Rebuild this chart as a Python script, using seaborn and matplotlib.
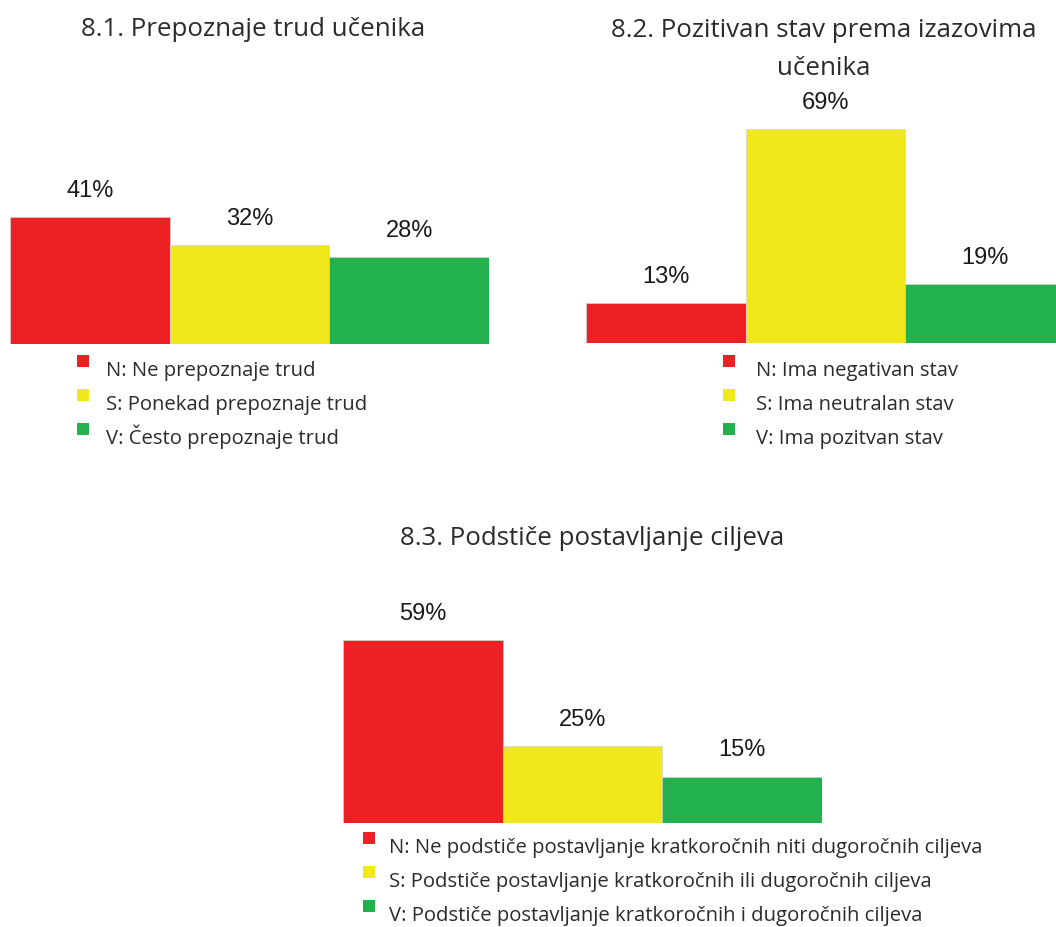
import matplotlib
matplotlib.use("Agg")
import matplotlib.pyplot as plt
from matplotlib.patches import Rectangle
import seaborn as sns

# ---- data ----
codes = ["N", "S", "V"]
bar_colors = ["#ED2024", "#F1E81B", "#22B14C"]

title_1 = "8.1. Prepoznaje trud učenika"
values_1 = [41, 32, 28]
legend_1 = ["N: Ne prepoznaje trud",
            "S: Ponekad prepoznaje trud",
            "V: Često prepoznaje trud"]

title_2 = "8.2. Pozitivan stav prema izazovima\nučenika"
values_2 = [13, 69, 19]
legend_2 = ["N: Ima negativan stav",
            "S: Ima neutralan stav",
            "V: Ima pozitvan stav"]

title_3 = "8.3. Podstiče postavljanje ciljeva"
values_3 = [59, 25, 15]
legend_3 = ["N: Ne podstiče postavljanje kratkoročnih niti dugoročnih ciljeva",
            "S: Podstiče postavljanje kratkoročnih ili dugoročnih ciljeva",
            "V: Podstiče postavljanje kratkoročnih i dugoročnih ciljeva"]

# ---- layout (pixels) ----
W, H = 1056, 927
DPI = 100
PX_PER_PCT = 3.1
TEXT_FONT = ["Open Sans", "DejaVu Sans"]
VALUE_FONT = ["Liberation Sans", "DejaVu Sans"]
TEXT_COLOR = "#2b2b2b"
TITLE_SIZE = 18.6
LEGEND_SIZE = 14.6

sns.set_theme(style="white")
plt.rcParams["font.family"] = TEXT_FONT

fig = plt.figure(figsize=(W / DPI, H / DPI), dpi=DPI)
fig.patch.set_facecolor("white")


def fx(x):
    return x / W


def fy(y):
    return 1 - y / H


def bar_panel(values, left, right, base):
    height_px = 100 * PX_PER_PCT
    ax = fig.add_axes([fx(left), fy(base), fx(right - left), height_px / H])
    df = {"code": codes, "value": values}
    sns.barplot(x="code", y="value", hue="code", data=df, palette=bar_colors,
                width=1.0, legend=False, ax=ax, saturation=1,
                edgecolor="#d2d2d2", linewidth=0.5)
    ax.set_xlim(-0.5, len(values) - 0.5)
    ax.set_ylim(0, 100)
    ax.set_axis_off()
    for patch, v in zip(ax.patches, values):
        ax.annotate(f"{v}%", (patch.get_x() + patch.get_width() / 2, patch.get_height()),
                    xytext=(0, 26 * 72 / DPI), textcoords="offset points",
                    ha="center", va="center", fontsize=17, color="#1a1a1a",
                    family=VALUE_FONT)
    return ax


def legend_block(labels, sq_x, text_x, rows):
    for lab, col, y in zip(labels, bar_colors, rows):
        fig.add_artist(Rectangle((fx(sq_x), fy(y - 2)), 12 / W, 12 / H,
                                 transform=fig.transFigure, facecolor=col,
                                 edgecolor="none"))
        fig.text(fx(text_x), fy(y + 7), lab, ha="left", va="baseline",
                 fontsize=LEGEND_SIZE, color=TEXT_COLOR)


# panel 8.1
bar_panel(values_1, 10, 489, 344)
fig.text(fx(253), fy(36), title_1, ha="center", va="baseline",
         fontsize=TITLE_SIZE, color=TEXT_COLOR)
legend_block(legend_1, 77, 106, [369, 403, 437])

# panel 8.2 (runs past the right edge of the figure)
bar_panel(values_2, 586, 1065, 343)
line_a, line_b = title_2.split("\n")
fig.text(fx(824), fy(37), line_a, ha="center", va="baseline",
         fontsize=TITLE_SIZE, color=TEXT_COLOR)
fig.text(fx(824), fy(75), line_b, ha="center", va="baseline",
         fontsize=TITLE_SIZE, color=TEXT_COLOR)
legend_block(legend_2, 723, 756, [369, 403, 437])

# panel 8.3
bar_panel(values_3, 343, 822, 823)
fig.text(fx(592), fy(545), title_3, ha="center", va="baseline",
         fontsize=TITLE_SIZE, color=TEXT_COLOR)
legend_block(legend_3, 363, 389, [846, 880, 914])

fig.savefig("out.png", dpi=DPI)
